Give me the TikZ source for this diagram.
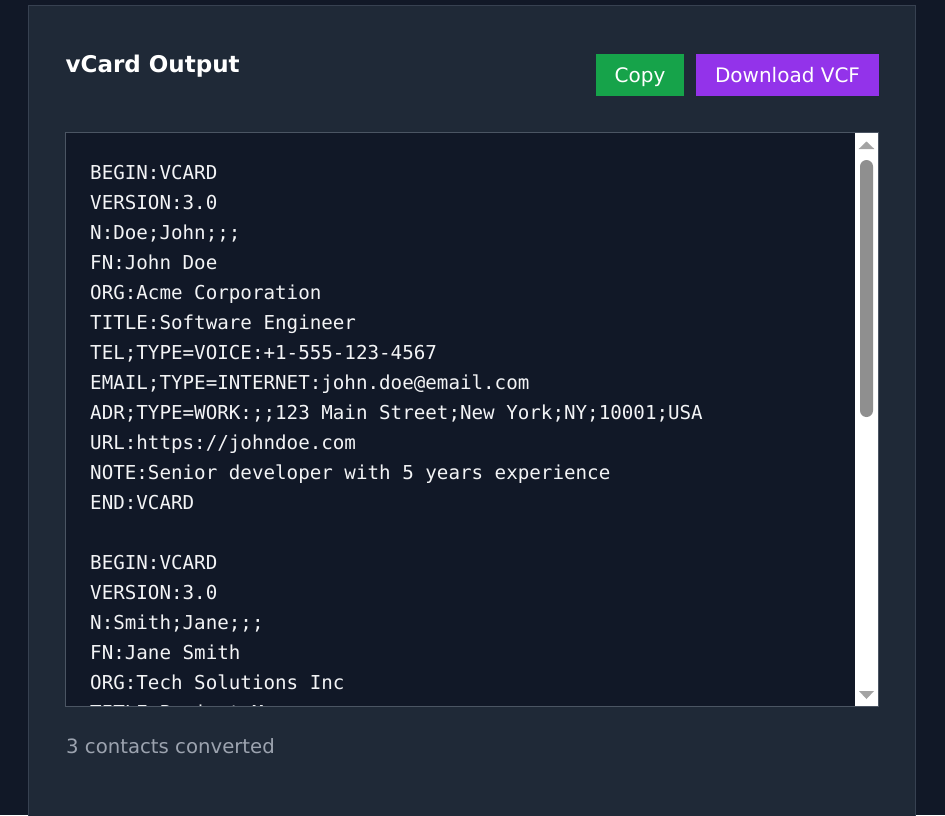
\documentclass[tikz,border=0pt]{standalone}
\usepackage{fontspec}
\newfontfamily\uifont{DejaVu Sans}
\newfontfamily\monofont{DejaVu Sans Mono}
\definecolor{pagebg}{HTML}{111827}
\definecolor{panelbg}{HTML}{1F2937}
\definecolor{panelborder}{HTML}{374151}
\definecolor{areabg}{HTML}{111827}
\definecolor{areaborder}{HTML}{4B5563}
\definecolor{codetext}{HTML}{F3F4F6}
\definecolor{mutedtext}{HTML}{9CA3AF}
\definecolor{copygreen}{HTML}{16A34A}
\definecolor{dlpurple}{HTML}{9333EA}
\definecolor{sbtrack}{HTML}{FFFFFF}
\definecolor{sbthumb}{HTML}{8F8F8F}
\definecolor{sbarrow}{HTML}{A3A3A3}
\tikzset{
  codeline/.style={anchor=base west, inner sep=0pt, text=codetext, font=\monofont\fontsize{19.2}{23}\selectfont},
  btnlabel/.style={inner sep=0pt, text=white, font=\uifont\fontsize{20}{24}\selectfont}
}
\begin{document}
\begin{tikzpicture}[x=1pt,y=-1pt]
\useasboundingbox (0,0) rectangle (945,815);
\fill[pagebg] (0,0) rectangle (945,815);
% panel
\fill[panelbg] (28.5,5.5) rectangle (915.5,816);
\draw[panelborder, line width=1pt] (28.5,816) -- (28.5,5.5) -- (915.5,5.5) -- (915.5,816);
% title
\node[anchor=base west, inner sep=0pt, text=white, font=\uifont\bfseries\fontsize{23}{28}\selectfont] (title) at (65.5,72) {vCard Output};
% buttons
\fill[copygreen] (596,54) rectangle (684,96);
\node[btnlabel, anchor=base] (copy) at (640,82) {Copy};
\fill[dlpurple] (696,54) rectangle (879,96);
\node[btnlabel, anchor=base] (download) at (787.5,82) {Download VCF};
% text area
\fill[areabg] (65.5,132.5) rectangle (878.5,706.5);
\begin{scope}
\clip (66,133) rectangle (855,706);
\foreach \t [count=\i from 0] in {
  {BEGIN:VCARD},
  {VERSION:3.0},
  {N:Doe;John;;;},
  {FN:John Doe},
  {ORG:Acme Corporation},
  {TITLE:Software Engineer},
  {TEL;TYPE=VOICE:+1-555-123-4567},
  {EMAIL;TYPE=INTERNET:john.doe@email.com},
  {ADR;TYPE=WORK:;;123 Main Street;New York;NY;10001;USA},
  {URL:https://johndoe.com},
  {NOTE:Senior developer with 5 years experience},
  {END:VCARD},
  {},
  {BEGIN:VCARD},
  {VERSION:3.0},
  {N:Smith;Jane;;;},
  {FN:Jane Smith},
  {ORG:Tech Solutions Inc},
  {TITLE:Project Manager}
}{
  \node[codeline] (line\i) at (90,179+30*\i) {\t};
}
\end{scope}
% scrollbar
\fill[sbtrack] (855,133) rectangle (878,706);
\fill[sbthumb, rounded corners=6.5pt] (860,160) rectangle (873,417);
\fill[sbarrow] (858.7,149) -- (874.3,149) -- (866.5,141.5) -- cycle;
\fill[sbarrow] (859,691) -- (874,691) -- (866.5,699) -- cycle;
\draw[areaborder, line width=1pt] (65.5,132.5) rectangle (878.5,706.5);
% status
\node[anchor=base west, inner sep=0pt, text=mutedtext, font=\uifont\fontsize{19.7}{24}\selectfont] (status) at (66,753) {3 contacts converted};
\end{tikzpicture}
\end{document}
